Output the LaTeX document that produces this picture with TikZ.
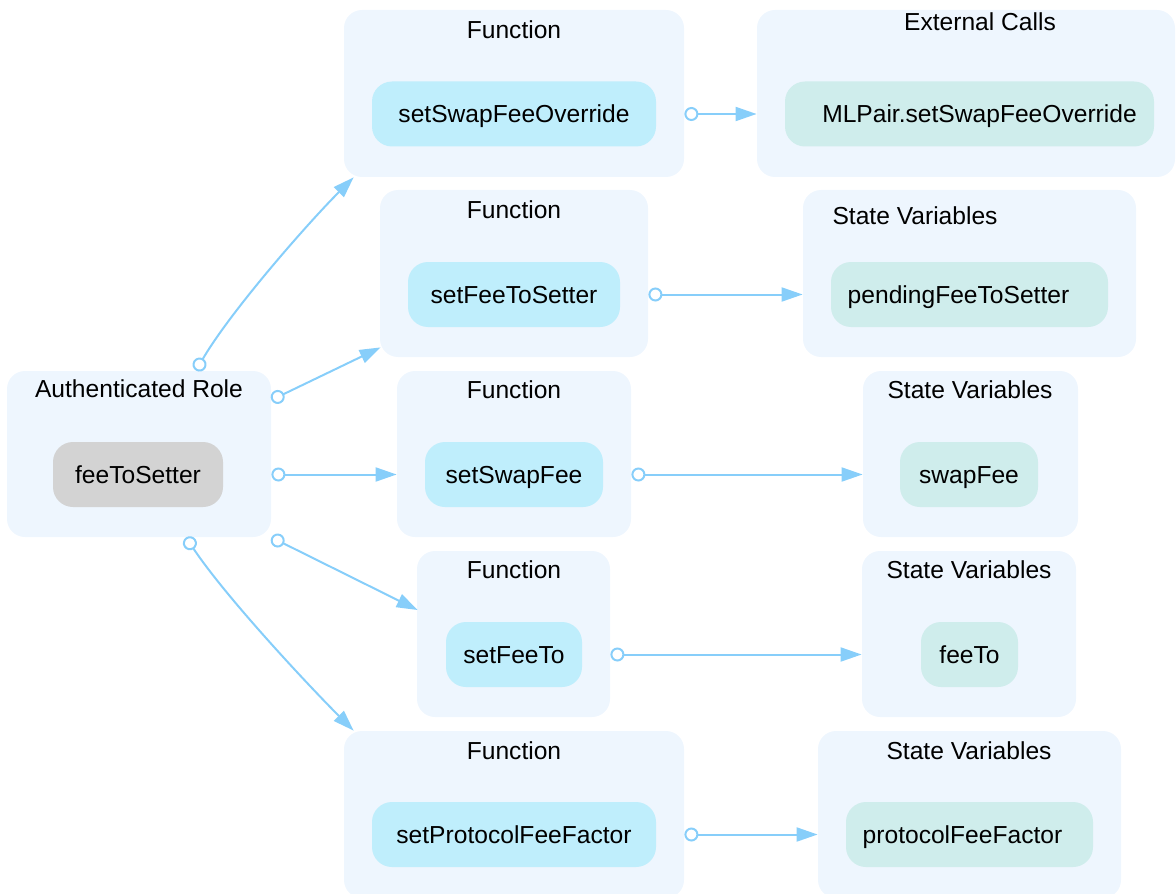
\documentclass[tikz,border=0pt]{standalone}
\usepackage{fontspec}
\setmainfont{Liberation Sans}
\usetikzlibrary{arrows.meta, positioning, calc}
\definecolor{clusterbg}{HTML}{EEF6FE}
\definecolor{fnfill}{HTML}{BFEEFC}
\definecolor{varfill}{HTML}{CFEDEC}
\definecolor{rolefill}{HTML}{D3D3D3}
\definecolor{edgeblue}{HTML}{87CEFA}
\newcommand{\dgfont}{\fontsize{12.3}{14.5}\selectfont}

\begin{document}
\begin{tikzpicture}[x=0.5pt, y=-0.5pt,
      cluster/.style={fill=clusterbg, rounded corners=9pt, inner sep=0pt},
      item/.style={rounded corners=10pt, minimum height=32.5pt, inner sep=0pt,
        text height=8.8pt, text depth=0pt, font=\dgfont},
      fnbox/.style={item, fill=fnfill},
      varbox/.style={item, fill=varfill},
      rolebox/.style={item, fill=rolefill},
      ttl/.style={inner sep=0pt, font=\dgfont},
      conn/.style={draw=edgeblue, line width=1pt,
        {Circle[open, length=7pt, width=7pt]}-{Triangle[length=10.5pt, width=7pt]}}
    ]
    \useasboundingbox (0,0) rectangle (1176,893);

    % authenticated role
    \node[cluster, minimum width=132pt, minimum height=83pt] (role) at (139,454) {};
    \node[ttl] (role-title) at (139,389) {Authenticated Role};
    \node[rolebox, minimum width=85pt] (feetosetter) at (138,474.5) {feeToSetter};

    % functions
    \node[cluster, minimum width=170pt, minimum height=83.5pt] (fn1) at (514,93.5) {};
    \node[ttl] (fn1-title) at (514,30) {Function};
    \node[fnbox, minimum width=142pt] (setswapfeeoverride) at (514,114) {setSwapFeeOverride};

    \node[cluster, minimum width=134pt, minimum height=83.5pt] (fn2) at (514,273.5) {};
    \node[ttl] (fn2-title) at (514,210) {Function};
    \node[fnbox, minimum width=106pt] (setfeetosetter) at (514,294.5) {setFeeToSetter};

    \node[cluster, minimum width=117pt, minimum height=83pt] (fn3) at (514,454) {};
    \node[ttl] (fn3-title) at (514,390) {Function};
    \node[fnbox, minimum width=89pt] (setswapfee) at (514,474.5) {setSwapFee};

    \node[cluster, minimum width=96.5pt, minimum height=83pt] (fn4) at (513.5,634) {};
    \node[ttl] (fn4-title) at (514,570) {Function};
    \node[fnbox, minimum width=68pt] (setfeeto) at (514,654.5) {setFeeTo};

    \node[cluster, minimum width=170pt, minimum height=83.5pt] (fn5) at (514,814.5) {};
    \node[ttl] (fn5-title) at (514,751) {Function};
    \node[fnbox, minimum width=142pt] (setprotocolfeefactor) at (514,834.5) {setProtocolFeeFactor};

    % external calls and state variables
    \node[cluster, minimum width=209pt, minimum height=83.5pt] (ext) at (966,93.5) {};
    \node[ttl] (ext-title) at (980,22) {External Calls};
    \node[varbox, minimum width=184.5pt] (mlpair) at (969.5,114) {\hspace*{10pt}MLPair.setSwapFeeOverride};

    \node[cluster, minimum width=166.5pt, minimum height=83.5pt] (sv2) at (969.5,273.5) {};
    \node[ttl] (sv2-title) at (915,216) {State Variables};
    \node[varbox, minimum width=138.5pt] (pendingfeetosetter) at (969.5,294.5) {pendingFeeToSetter\hspace*{11pt}};

    \node[cluster, minimum width=107.5pt, minimum height=83pt] (sv3) at (970.5,454) {};
    \node[ttl] (sv3-title) at (970,390) {State Variables};
    \node[varbox, minimum width=69pt] (swapfee) at (969,474.5) {swapFee};

    \node[cluster, minimum width=107pt, minimum height=83pt] (sv4) at (969,634) {};
    \node[ttl] (sv4-title) at (969,570) {State Variables};
    \node[varbox, minimum width=48.5pt] (feeto) at (969.5,654.5) {feeTo};

    \node[cluster, minimum width=151.5pt, minimum height=83.5pt] (sv5) at (969.5,814.5) {};
    \node[ttl] (sv5-title) at (969,751) {State Variables};
    \node[varbox, minimum width=123.5pt] (protocolfeefactor) at (969.5,834.5) {protocolFeeFactor\hspace*{7pt}};

    % role -> functions
    \draw[conn] ($(role.north)+(57,0)$) .. controls +(35,-60) and +(-45,45) .. ($(fn1.south west)+(10,0)$);
    \draw[conn] ($(role.east)+(0,-54)$) -- ($(fn2.south west)+(1,-10)$);
    \draw[conn] (role.east |- feetosetter) -- (fn3.west |- feetosetter);
    \draw[conn] (role.south east) -- ($(fn4.west)+(1,-24)$);
    \draw[conn] ($(role.south)+(47,0)$) .. controls +(40,60) and +(-45,-45) .. ($(fn5.north west)+(10,0)$);

    % functions -> targets
    \draw[conn] (fn1.east |- setswapfeeoverride) -- (ext.west |- setswapfeeoverride);
    \draw[conn] (fn2.east |- setfeetosetter) -- (sv2.west |- setfeetosetter);
    \draw[conn] (fn3.east |- setswapfee) -- (sv3.west |- setswapfee);
    \draw[conn] (fn4.east |- setfeeto) -- (sv4.west |- setfeeto);
    \draw[conn] (fn5.east |- setprotocolfeefactor) -- (sv5.west |- setprotocolfeefactor);
  \end{tikzpicture}
\end{document}
